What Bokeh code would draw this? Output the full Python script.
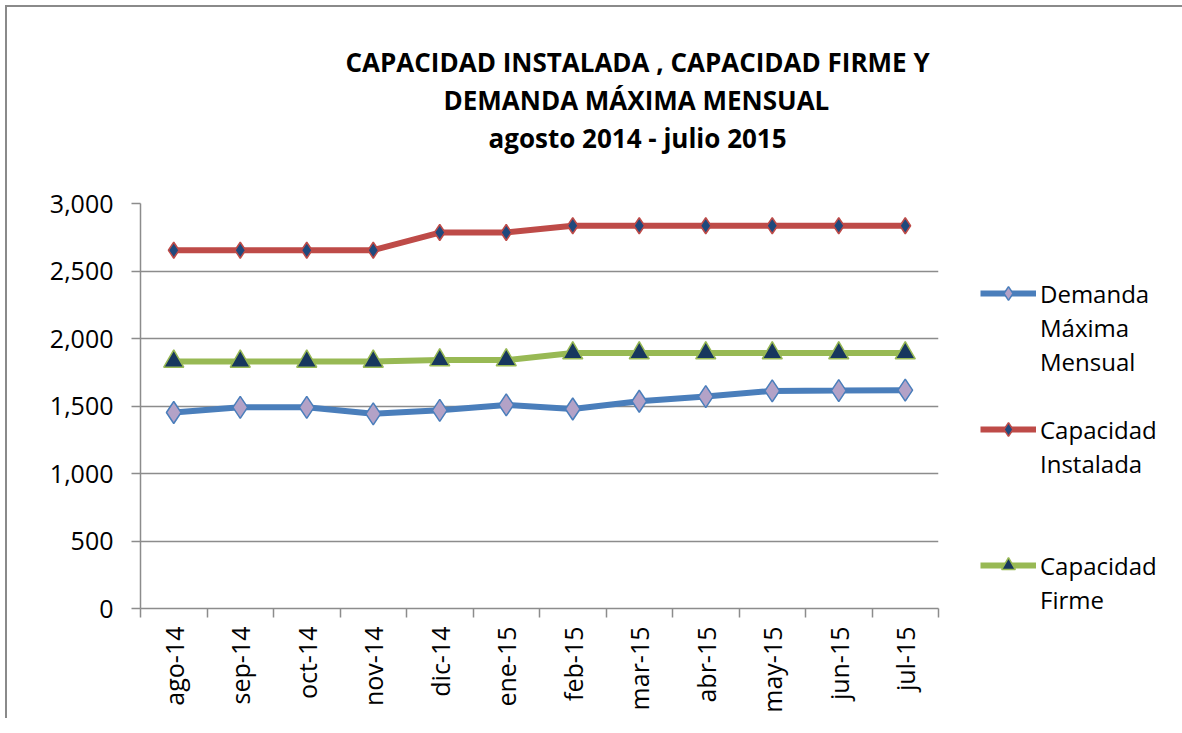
import numpy as np
from bokeh.plotting import figure
from bokeh.models import (Range1d, FixedTicker, NumeralTickFormatter, Legend, LegendItem, Title)
from bokeh.embed import file_html
from bokeh.resources import INLINE

months = ["ago-14", "sep-14", "oct-14", "nov-14", "dic-14", "ene-15",
          "feb-15", "mar-15", "abr-15", "may-15", "jun-15", "jul-15"]
demanda = [1452, 1490, 1490, 1442, 1468, 1508, 1478, 1535, 1570, 1612, 1614, 1617]
instalada = [2654, 2654, 2654, 2654, 2785, 2785, 2835, 2835, 2835, 2835, 2835, 2835]
firme = [1830, 1830, 1830, 1830, 1840, 1840, 1892, 1892, 1892, 1892, 1892, 1892]
y_ticks = [0, 500, 1000, 1500, 2000, 2500, 3000]
title_lines = ["CAPACIDAD INSTALADA , CAPACIDAD FIRME Y",
               "DEMANDA MÁXIMA MENSUAL",
               "agosto 2014 - julio 2015"]
series_names = [["Demanda", "Máxima", "Mensual"],
                ["Capacidad", "Instalada"],
                ["Capacidad", "Firme"]]

FONT = "Open Sans"
GRID = "#8c8c8c"

x = np.arange(len(months)) + 0.5

p = figure(frame_width=798, frame_height=405,
           min_border_left=133, min_border_right=230,
           min_border_top=196, min_border_bottom=110,
           x_range=Range1d(0, len(months)), y_range=Range1d(0, 3000),
           output_backend="svg", toolbar_location=None,
           background_fill_color="white", border_fill_color="white")
p.outline_line_color = None
p.margin = (5, 0, 0, 5)
p.styles = {"border-left": "2px solid #8a8a8a", "border-top": "2px solid #8a8a8a"}

# axes
p.xaxis.ticker = FixedTicker(ticks=list(x), minor_ticks=list(range(len(months) + 1)))
p.xaxis.major_label_overrides = {float(v): m for v, m in zip(x, months)}
p.xaxis.major_label_orientation = np.pi / 2
p.xaxis.major_tick_out = 0
p.xaxis.major_tick_in = 0
p.xaxis.minor_tick_out = 9
p.xaxis.minor_tick_in = 0
p.xaxis.minor_tick_line_color = GRID
p.xaxis.minor_tick_line_width = 1.5
p.xaxis.major_label_standoff = 9

p.yaxis.ticker = FixedTicker(ticks=y_ticks)
p.yaxis.formatter = NumeralTickFormatter(format="0,0")
p.yaxis.major_tick_out = 9
p.yaxis.major_tick_in = 0
p.yaxis.minor_tick_out = 0
p.yaxis.minor_tick_in = 0
p.yaxis.major_label_standoff = 18

for ax in (p.xaxis, p.yaxis):
    ax.axis_line_color = GRID
    ax.axis_line_width = 1.5
    ax.major_tick_line_color = GRID
    ax.major_tick_line_width = 1.5
    ax.major_label_text_font = FONT
    ax.major_label_text_font_size = "25px"
    ax.major_label_text_color = "black"

p.xgrid.grid_line_color = None
p.ygrid.ticker = FixedTicker(ticks=y_ticks)
p.ygrid.grid_line_color = GRID
p.ygrid.grid_line_width = 1.5

# series
l1 = p.line(x, demanda, line_color="#4a7ebb", line_width=6)
m1 = p.scatter(x, demanda, marker="diamond", size=22,
               fill_color="#b3a2c7", line_color="#4a7ebb", line_width=1.5)
l2 = p.line(x, instalada, line_color="#be4b48", line_width=6)
m2 = p.scatter(x, instalada, marker="diamond", size=16,
               fill_color="#1f497d", line_color="#be4b48", line_width=1.5)
l3 = p.line(x, firme, line_color="#98b954", line_width=6)
m3 = p.scatter(x, firme, marker="triangle", size=20,
               fill_color="#17375e", line_color="#98b954", line_width=1.5)

# legend: first line of each name carries the glyph, further lines are text only
items = []
groups = [(series_names[0], [l1, m1], 1), (series_names[1], [l2, m2], 2), (series_names[2], [l3, m3], 0)]
for names, rends, n_blank in groups:
    items.append(LegendItem(label=names[0], renderers=rends))
    for nm in names[1:]:
        items.append(LegendItem(label=nm, renderers=[]))
    for _ in range(n_blank):
        items.append(LegendItem(label=" ", renderers=[]))

legend = Legend(items=items, location=(42, -8))
legend.background_fill_alpha = 0
legend.border_line_color = None
legend.padding = 0
legend.margin = 0
legend.glyph_width = 56
legend.glyph_height = 34
legend.label_height = 34
legend.label_standoff = 4
legend.spacing = 0
legend.label_text_font = FONT
legend.label_text_font_size = "24px"
legend.label_text_color = "black"
p.add_layout(legend, "right")

# title: three centred lines (left-aligned with offsets that centre them at the chart's middle)
p.add_layout(Title(text=" ", standoff=12, text_font=FONT, text_font_size="25px"), "above")
offsets = [205, 303, 348]
for txt, off in reversed(list(zip(title_lines, offsets))):
    p.add_layout(Title(text=txt, align="left", offset=off, standoff=0,
                       text_font=FONT, text_font_style="bold", text_font_size="26px",
                       text_color="black"), "above")

open("out.html", "w").write(file_html(p, INLINE))
